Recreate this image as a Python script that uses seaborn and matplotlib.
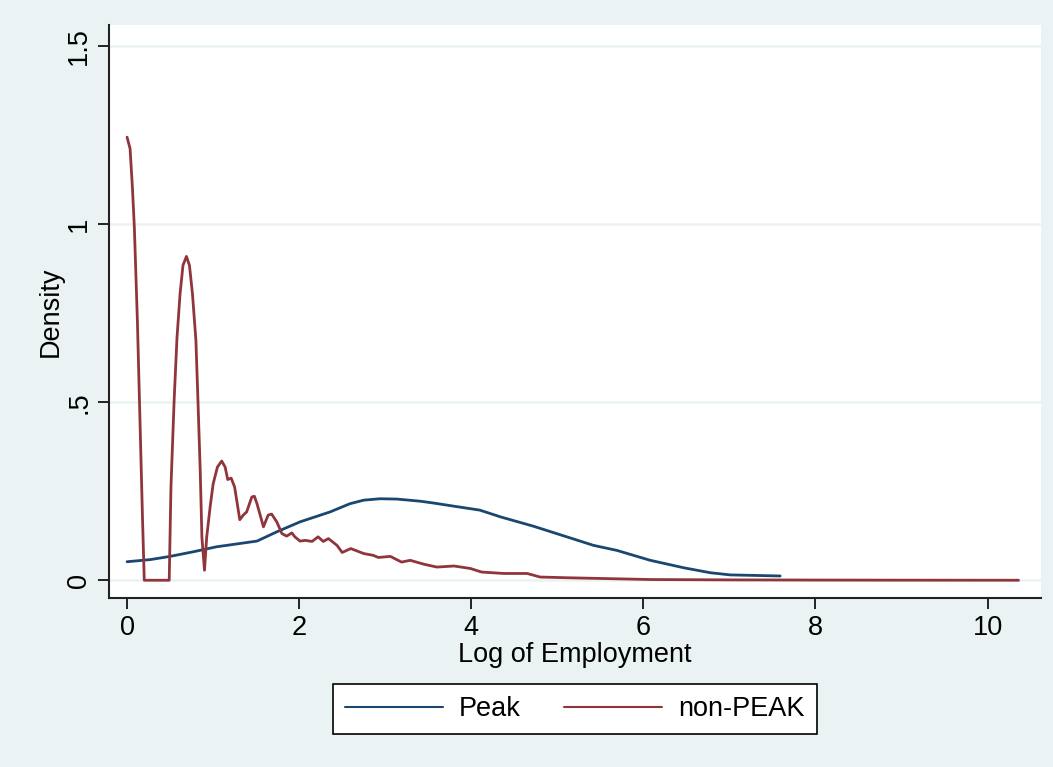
import pandas as pd
import seaborn as sns
import matplotlib.pyplot as plt

# values
peak_x = [0.0, 0.27, 0.5, 0.77, 1.04, 1.51, 1.74, 2.01, 2.36, 2.59, 2.75, 2.94, 3.14,
          3.41, 3.56, 3.8, 4.1, 4.34, 4.72, 5.11, 5.42, 5.69, 6.08, 6.47, 6.78, 7.01, 7.59]
peak_y = [0.052, 0.058, 0.067, 0.08, 0.094, 0.11, 0.136, 0.164, 0.192, 0.215, 0.225, 0.229, 0.228,
          0.222, 0.217, 0.208, 0.197, 0.178, 0.152, 0.122, 0.098, 0.084, 0.056, 0.035, 0.021, 0.015, 0.012]

nonpeak_x = [0.0, 0.035, 0.062, 0.085, 0.12, 0.15, 0.18, 0.2, 0.49, 0.51, 0.547, 0.58, 0.616,
             0.65, 0.69, 0.725, 0.76, 0.8, 0.825, 0.85, 0.87, 0.9, 0.925, 0.965, 1.0, 1.05,
             1.1, 1.14, 1.17, 1.21, 1.25, 1.31, 1.35, 1.39, 1.45, 1.48, 1.51, 1.585, 1.64,
             1.68, 1.74, 1.8, 1.855, 1.915, 1.95, 2.01, 2.07, 2.15, 2.22, 2.28, 2.34, 2.44,
             2.5, 2.6, 2.75, 2.86, 2.92, 3.06, 3.19, 3.29, 3.45, 3.6, 3.8, 3.99, 4.12, 4.38,
             4.65, 4.8, 5.11, 5.5, 6.08, 7.0, 8.0, 9.0, 10.36]
nonpeak_y = [1.245, 1.213, 1.105, 0.99, 0.73, 0.45, 0.17, 0.0, 0.0, 0.26, 0.505, 0.68, 0.805,
             0.885, 0.91, 0.885, 0.805, 0.675, 0.497, 0.31, 0.12, 0.028, 0.12, 0.205, 0.27, 0.318,
             0.335, 0.318, 0.283, 0.287, 0.262, 0.17, 0.183, 0.192, 0.234, 0.236, 0.215, 0.15, 0.183,
             0.186, 0.164, 0.131, 0.124, 0.133, 0.122, 0.11, 0.112, 0.109, 0.122, 0.109, 0.117, 0.098,
             0.078, 0.089, 0.075, 0.07, 0.064, 0.067, 0.051, 0.056, 0.045, 0.037, 0.04, 0.033, 0.023, 0.019,
             0.019, 0.009, 0.007, 0.005, 0.002, 0.001, 0.0005, 0.0002, 0.0]

x_ticks = [0, 2, 4, 6, 8, 10]
y_ticks = [0, 0.5, 1, 1.5]
y_ticklabels = ["0", ".5", "1", "1.5"]

df_peak = pd.DataFrame({"x": peak_x, "y": peak_y})
df_nonpeak = pd.DataFrame({"x": nonpeak_x, "y": nonpeak_y})

sns.set_style("white")
plt.rcParams["font.family"] = ["Liberation Sans", "DejaVu Sans"]
plt.rcParams["text.color"] = "black"
plt.rcParams["axes.labelcolor"] = "black"
plt.rcParams["xtick.color"] = "black"
plt.rcParams["ytick.color"] = "black"

fs = 19.5
bg = "#EAF2F3"
fig = plt.figure(figsize=(10.53, 7.67), dpi=100, facecolor=bg)
ax = fig.add_axes([0.1035, 0.2203, 0.885, 0.747])
ax.set_facecolor("white")

for yv in y_ticks:
    ax.axhline(yv, color=bg, lw=1.8, zorder=0)

sns.lineplot(data=df_peak, x="x", y="y", color="#1a476f", lw=2, label="Peak", ax=ax, sort=False)
sns.lineplot(data=df_nonpeak, x="x", y="y", color="#90353b", lw=2, label="non-PEAK", ax=ax, sort=False)

ax.set_xlim(-0.21, 10.62)
ax.set_ylim(-0.05, 1.56)
ax.set_xticks(x_ticks)
ax.set_yticks(y_ticks)
ax.set_yticklabels(y_ticklabels, rotation=90, va="center")
ax.tick_params(axis="both", direction="out", length=8, width=1.2, labelsize=fs, color="black", pad=4)
ax.tick_params(axis="both", left=True, bottom=True)
ax.set_xlabel("Log of Employment", fontsize=fs, labelpad=1)
ax.set_ylabel("Density", fontsize=fs, labelpad=2)

for s in ["top", "right"]:
    ax.spines[s].set_visible(False)
for s in ["left", "bottom"]:
    ax.spines[s].set_color("#222222")
    ax.spines[s].set_linewidth(1.5)

leg = ax.legend(loc="center", bbox_to_anchor=(0.5, -0.194), ncol=2, fontsize=fs,
                frameon=True, fancybox=False, framealpha=1, handlelength=3.6, columnspacing=1.6,
                handletextpad=0.6, borderpad=0.45, borderaxespad=0)
leg.get_frame().set_edgecolor("black")
leg.get_frame().set_facecolor("white")
leg.get_frame().set_linewidth(1.2)
for h in leg.get_lines():
    h.set_linewidth(1.5)

plt.savefig("out.png", dpi=100, facecolor=bg)
